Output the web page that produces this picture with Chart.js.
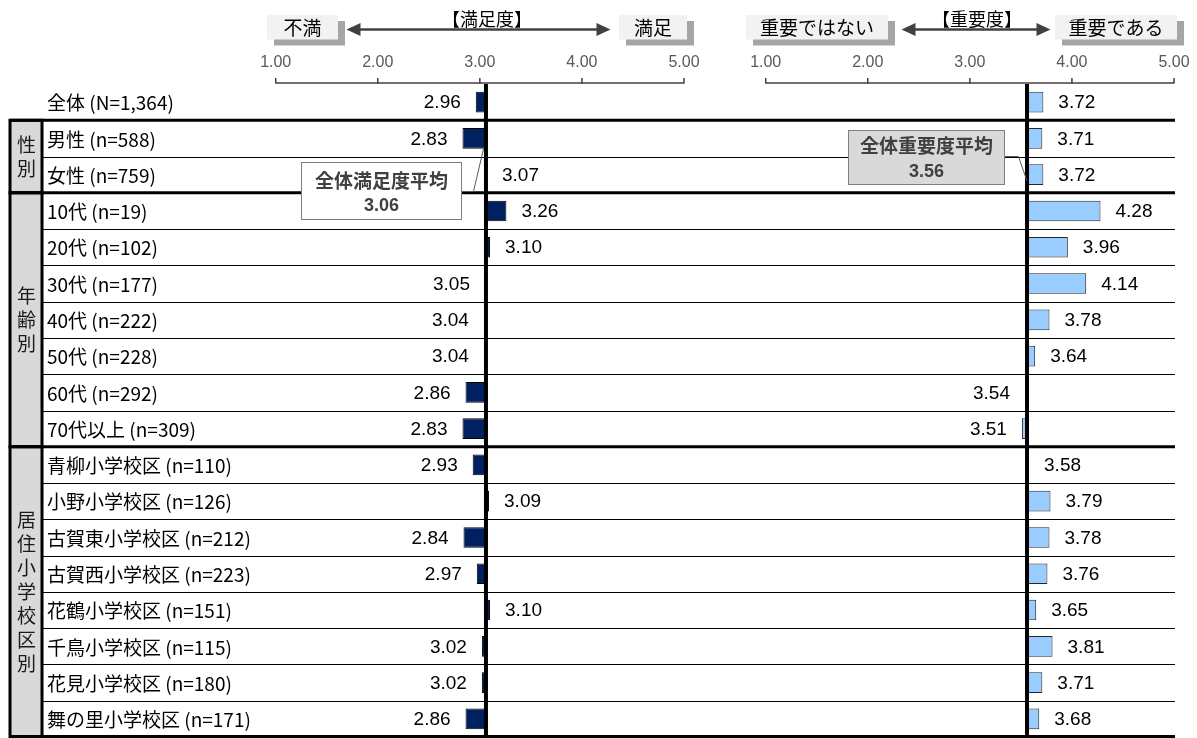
<!DOCTYPE html>
<html>
<head>
<meta charset="utf-8">
<script src="https://cdn.jsdelivr.net/npm/chart.js@4.4.1/dist/chart.umd.min.js"></script>
<style>
  html, body { margin: 0; padding: 0; background: #fff; }
  #wrap { position: relative; width: 1197px; height: 738px; }
</style>
</head>
<body>
<div id="wrap"><canvas id="chart"></canvas></div>
<script>
const rowLabels = [
    "全体 (N=1,364)",
    "男性 (n=588)", "女性 (n=759)",
    "10代 (n=19)", "20代 (n=102)", "30代 (n=177)", "40代 (n=222)",
    "50代 (n=228)", "60代 (n=292)", "70代以上 (n=309)",
    "青柳小学校区 (n=110)", "小野小学校区 (n=126)", "古賀東小学校区 (n=212)",
    "古賀西小学校区 (n=223)", "花鶴小学校区 (n=151)", "千鳥小学校区 (n=115)",
    "花見小学校区 (n=180)", "舞の里小学校区 (n=171)"
];
const satisfaction = [2.96, 2.83, 3.07, 3.26, 3.10, 3.05, 3.04, 3.04, 2.86, 2.83, 2.93, 3.09, 2.84, 2.97, 3.10, 3.02, 3.02, 2.86];
const importance = [3.72, 3.71, 3.72, 4.28, 3.96, 4.14, 3.78, 3.64, 3.54, 3.51, 3.58, 3.79, 3.78, 3.76, 3.65, 3.81, 3.71, 3.68];
const satisfactionAvg = 3.06;
const importanceAvg = 3.56;
const axisTicks = [1, 2, 3, 4, 5];
const groupNames = ["性別", "年齢別", "居住小学校区別"];
const groupFirst = [1, 3, 10];
const groupLast = [2, 9, 17];

const CJK = '"Noto Sans CJK JP", sans-serif';
const NUM = '"Liberation Sans", "Noto Sans CJK JP", sans-serif';

function rowTop(ys, i) {
    const h = ys.getPixelForValue(1) - ys.getPixelForValue(0);
    return ys.getPixelForValue(i) - h / 2;
}

function line(ctx, x1, y1, x2, y2, color, width) {
    ctx.strokeStyle = color;
    ctx.lineWidth = width;
    ctx.beginPath();
    ctx.moveTo(x1, y1);
    ctx.lineTo(x2, y2);
    ctx.stroke();
}

function arrow(ctx, x1, x2, y) {
    ctx.fillStyle = "#404040";
    line(ctx, x1 + 10, y, x2 - 10, y, "#404040", 2.5);
    ctx.beginPath();
    ctx.moveTo(x1, y); ctx.lineTo(x1 + 14, y - 6.5); ctx.lineTo(x1 + 14, y + 6.5);
    ctx.closePath(); ctx.fill();
    ctx.beginPath();
    ctx.moveTo(x2, y); ctx.lineTo(x2 - 14, y - 6.5); ctx.lineTo(x2 - 14, y + 6.5);
    ctx.closePath(); ctx.fill();
}

function tagBox(ctx, x1, x2, text) {
    ctx.fillStyle = "#a6a6a6";
    ctx.fillRect(x1 + 7, 21, x2 - x1, 24.5);
    ctx.fillStyle = "#f2f2f2";
    ctx.fillRect(x1, 15, x2 - x1, 24.5);
    ctx.fillStyle = "#000";
    ctx.font = "19px " + CJK;
    ctx.textAlign = "center";
    ctx.textBaseline = "middle";
    ctx.fillText(text, (x1 + x2) / 2, 28);
}

const tablePlugin = {
    id: "table",
    beforeDatasetsDraw(chart) {
        const { ctx, chartArea, scales } = chart;
        const ys = scales.y;
        const right = chartArea.right;
        ctx.save();

        // thin row lines
        for (let i = 2; i < rowLabels.length; i++) {
            if (groupFirst.includes(i)) continue;
            line(ctx, 43, Math.round(rowTop(ys, i)) + 0.5, right, Math.round(rowTop(ys, i)) + 0.5, "#000", 1);
        }

        // group column
        groupNames.forEach((name, g) => {
            const top = rowTop(ys, groupFirst[g]);
            const bottom = rowTop(ys, groupLast[g] + 1);
            ctx.fillStyle = "#d9d9d9";
            ctx.fillRect(10, top, 32, bottom - top);
            ctx.strokeStyle = "#000";
            ctx.lineWidth = 3;
            ctx.strokeRect(10, top, 32, bottom - top);
            line(ctx, 10, top, right, top, "#000", 3);

            ctx.fillStyle = "#1a1a1a";
            ctx.font = "19px " + CJK;
            ctx.textAlign = "center";
            ctx.textBaseline = "middle";
            const step = 24;
            const mid = (top + bottom) / 2;
            const chars = Array.from(name);
            chars.forEach((c, k) => {
                ctx.fillText(c, 26.5, mid + (k - (chars.length - 1) / 2) * step);
            });
        });
        line(ctx, 10, chartArea.bottom - 0.5, right, chartArea.bottom - 0.5, "#000", 3);

        // row labels
        ctx.fillStyle = "#000";
        ctx.font = "19px " + CJK;
        ctx.textAlign = "left";
        ctx.textBaseline = "middle";
        rowLabels.forEach((lab, i) => {
            ctx.fillText(lab, 47, ys.getPixelForValue(i) + 1);
        });

        // axis brackets and tick labels
        [scales.x, scales.x2].forEach(xs => {
            const a = xs.getPixelForValue(axisTicks[0]);
            const b = xs.getPixelForValue(axisTicks[axisTicks.length - 1]);
            line(ctx, a, 83, b, 83, "#404040", 1.5);
            ctx.fillStyle = "#595959";
            ctx.font = "16px " + NUM;
            ctx.textAlign = "center";
            ctx.textBaseline = "middle";
            axisTicks.forEach(t => {
                const px = xs.getPixelForValue(t);
                line(ctx, px, 78, px, 83.5, "#404040", 1.5);
                ctx.fillStyle = "#595959";
                ctx.fillText(t.toFixed(2), px, 63);
            });
        });

        // header
        tagBox(ctx, 267, 338, "不満");
        tagBox(ctx, 619, 687, "満足");
        tagBox(ctx, 746, 888, "重要ではない");
        tagBox(ctx, 1055, 1177, "重要である");
        arrow(ctx, 346.5, 610.5, 29.5);
        arrow(ctx, 901.5, 1050.5, 29.5);
        ctx.fillStyle = "#000";
        ctx.font = "18px " + CJK;
        ctx.textAlign = "center";
        ctx.textBaseline = "middle";
        ctx.fillText("【満足度】", 487, 19);
        ctx.fillText("【重要度】", 977, 19);
        ctx.restore();
    },
    afterDatasetsDraw(chart) {
        const { ctx, chartArea, scales } = chart;
        const ys = scales.y;
        ctx.save();

        const satPx = scales.x.getPixelForValue(satisfactionAvg);
        const impPx = scales.x2.getPixelForValue(importanceAvg);

        // average lines
        line(ctx, satPx, chartArea.top, satPx, chartArea.bottom, "#000", 4);
        line(ctx, impPx, chartArea.top, impPx, chartArea.bottom, "#000", 4);

        // value labels
        ctx.fillStyle = "#000";
        ctx.font = "19px " + NUM;
        ctx.textBaseline = "middle";
        const drawVals = (xs, vals, avg) => {
            vals.forEach((v, i) => {
                const px = xs.getPixelForValue(v);
                const y = ys.getPixelForValue(i) + 1;
                if (v < avg) {
                    ctx.textAlign = "right";
                    ctx.fillText(v.toFixed(2), px - 15, y);
                } else {
                    ctx.textAlign = "left";
                    ctx.fillText(v.toFixed(2), px + 15, y);
                }
            });
        };
        drawVals(scales.x, satisfaction, satisfactionAvg);
        drawVals(scales.x2, importance, importanceAvg);

        // callouts
        ctx.strokeStyle = "#595959";
        ctx.lineWidth = 1;
        ctx.beginPath();
        ctx.moveTo(461.5, 191.5); ctx.lineTo(473.5, 191.5); ctx.lineTo(satPx - 2.5, 149);
        ctx.stroke();
        ctx.fillStyle = "#fff";
        ctx.fillRect(301.5, 162.5, 160, 57);
        ctx.strokeStyle = "#7f7f7f";
        ctx.strokeRect(301.5, 162.5, 160, 57);

        ctx.strokeStyle = "#595959";
        ctx.beginPath();
        ctx.moveTo(1005, 156.5); ctx.lineTo(1018.5, 156.5); ctx.lineTo(impPx, 181);
        ctx.stroke();
        ctx.fillStyle = "#d9d9d9";
        ctx.fillRect(848.5, 130.5, 156, 54);
        ctx.strokeStyle = "#7f7f7f";
        ctx.strokeRect(848.5, 130.5, 156, 54);

        ctx.fillStyle = "#404040";
        ctx.textAlign = "center";
        ctx.font = "bold 19px " + CJK;
        ctx.fillText("全体満足度平均", 381.5, 181);
        ctx.fillText("全体重要度平均", 926.5, 146);
        ctx.font = "bold 18px " + NUM;
        ctx.fillText(satisfactionAvg.toFixed(2), 381.5, 206);
        ctx.fillText(importanceAvg.toFixed(2), 926.5, 172);

        ctx.restore();
    }
};

// chart area spans 43..1175; ranges chosen so 1.00-5.00 sit over each panel
const ctx = document.getElementById("chart").getContext("2d");
const chart = new Chart(ctx, {
    type: "bar",
    data: {
        labels: rowLabels,
        datasets: [
            {
                label: "満足度",
                data: satisfaction.map(v => [satisfactionAvg, v]),
                xAxisID: "x",
                backgroundColor: "#002060",
                borderColor: "#000",
                borderWidth: 1,
                borderSkipped: false,
                grouped: false,
                barPercentage: 0.57,
                categoryPercentage: 1
            },
            {
                label: "重要度",
                data: importance.map(v => [importanceAvg, v]),
                xAxisID: "x2",
                backgroundColor: "#99ccff",
                borderColor: "#262626",
                borderWidth: 1,
                borderSkipped: false,
                grouped: false,
                barPercentage: 0.57,
                categoryPercentage: 1
            }
        ]
    },
    options: {
        indexAxis: "y",
        responsive: true,
        maintainAspectRatio: false,
        animation: false,
        layout: { padding: { left: 43, right: 22, top: 84, bottom: 1 } },
        plugins: {
            legend: { display: false },
            tooltip: { enabled: false }
        },
        scales: {
            y: { type: "category", display: false, offset: true },
            x: { type: "linear", display: false, min: -1.2797, max: 9.8102 },
            x2: { type: "linear", display: false, min: -6.0801, max: 5.0098 }
        }
    },
    plugins: [tablePlugin]
});
</script>
</body>
</html>
